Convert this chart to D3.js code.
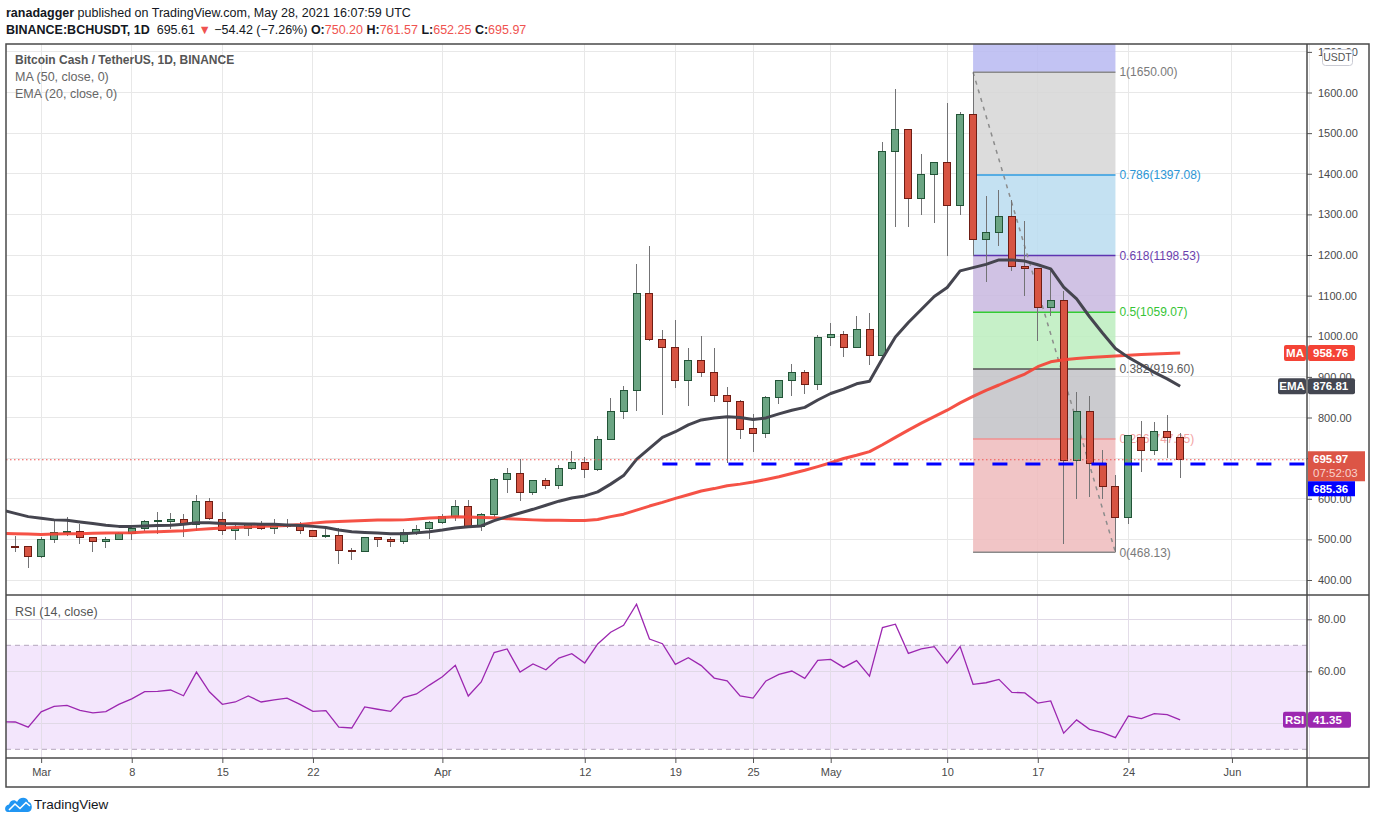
<!DOCTYPE html>
<html>
<head>
<meta charset="utf-8">
<script src="https://cdn.jsdelivr.net/npm/d3@7"></script>
<style>
  body { margin: 0; background: #fff; }
  svg { display: block; font-family: "Liberation Sans", Arial, sans-serif; }
</style>
</head>
<body>
<script>
// BCH/USDT daily, Feb 26 .. May 28 2021
const firstDay = '2021-02-26'

const open = [
  497, 483, 483,
  457, 500, 517, 519, 505, 495, 500, 514, 527, 544,
  545, 549, 537, 593, 548, 522, 527, 539, 527, 532,
  534, 522, 507, 510, 473, 470, 505, 500, 495, 517, 526,
  541, 557, 581, 532, 561, 647, 662, 616, 645, 633,
  675, 689, 672, 746, 814, 866, 1105, 992, 972, 891,
  940, 911, 854, 839, 773, 760, 849, 891, 911, 881,
  997, 1004, 972, 1016, 952, 1454, 1508, 1340, 1397, 1427,
  1321, 1547, 1237, 1256, 1296, 1171, 1166, 1070, 1089, 693,
  816, 688, 629, 553, 752, 720, 765, 750.20
]
const high = [
  510, 508, 484,
  506, 549, 554, 537, 506, 505, 517, 535, 548, 567,
  565, 562, 609, 601, 567, 538, 540, 545, 549, 549,
  542, 523, 532, 527, 480, 507, 507, 505, 525, 535, 545,
  562, 598, 597, 566, 650, 675, 697, 647, 650, 683,
  717, 702, 754, 847, 877, 1177, 1221, 1016, 1041, 972,
  1000, 972, 875, 844, 808, 852, 893, 931, 916, 1002,
  1032, 1012, 1049, 1057, 1477, 1609, 1510, 1449, 1430, 1573,
  1551, 1650, 1345, 1360, 1336, 1283, 1168, 1163, 1112, 864,
  852, 721, 659, 757, 792, 789, 806, 761.57
]
const low = [
  478, 470, 430,
  455, 492, 508, 489, 470, 480, 498, 499, 520, 513,
  525, 506, 520, 547, 512, 499, 509, 522, 514, 527,
  514, 505, 504, 440, 450, 468, 482, 482, 489, 510, 501,
  539, 546, 529, 520, 556, 615, 595, 609, 625, 625,
  670, 652, 669, 744, 797, 816, 988, 807, 873, 829,
  900, 838, 687, 748, 716, 750, 833, 853, 857, 867,
  975, 949, 970, 929, 950, 1268, 1268, 1299, 1280, 1197,
  1299, 1198, 1133, 1221, 1160, 1099, 988, 1050, 488, 599,
  604, 599, 468.13, 538, 666, 708, 701, 652.25
]
const close = [
  486, 482, 457,
  500, 517, 519, 504, 495, 500, 515, 527, 545, 546,
  550, 537, 593, 551, 522, 528, 539, 527, 532, 534,
  522, 507, 510, 473, 470, 505, 500, 495, 517, 525, 541,
  557, 581, 532, 561, 647, 662, 616, 645, 633, 675,
  689, 672, 746, 814, 866, 1105, 992, 972, 891, 940,
  911, 854, 839, 771, 760, 849, 891, 911, 881, 997,
  1004, 972, 1016, 952, 1454, 1508, 1340, 1397, 1427, 1321,
  1547, 1237, 1256, 1296, 1171, 1166, 1070, 1089, 693, 816,
  688, 629, 553, 755, 718, 765, 750, 695.97
]
const ema20 = [
  572, 564, 556,
  552, 548, 547, 543, 539, 535, 532, 532, 533, 534,
  535, 537, 541, 541, 539, 538.5, 538, 537.5, 537, 535.5,
  534, 532, 529, 523, 519, 517, 515.5, 514, 514, 516, 519,
  523, 528, 531, 533, 546, 556, 565, 574, 584, 594,
  602, 607, 617, 636, 657, 697, 724, 751, 765, 782,
  794, 799, 802, 800, 795, 799, 809, 818, 825, 843,
  859, 870, 883, 889, 945, 998, 1034, 1066, 1098, 1120,
  1161, 1169, 1177, 1188, 1188, 1185, 1176, 1166, 1121, 1092,
  1048, 1008, 970, 948, 930, 911, 895, 876.81
]
const ma50 = [
  515, 514, 513,
  512, 513, 514, 514, 515, 515.5, 516, 516.5, 518, 519,
  520, 521, 524, 526, 528, 529.5, 530.5, 532, 533, 534,
  536.5, 540, 542.5, 544, 545, 546.5, 547.5, 547.5, 548, 550, 552.5,
  554, 555.5, 555, 554, 553, 551, 549.5, 548, 547, 547,
  546.5, 546.5, 549, 556, 562, 572, 582, 591, 601, 610,
  619, 625, 632, 636, 641, 647.5, 654, 662, 670, 679,
  688.5, 699, 707, 716, 733, 751, 769, 786, 802, 818,
  836, 852, 867, 880, 894, 907, 925, 937, 942, 945,
  947.5, 949.5, 951.5, 953, 955, 956.5, 957.8, 958.76
]
const rsi14 = [
  40.6, 40.5, 38.5,
  44.4, 46.5, 46.9, 45.0, 44.0, 44.5, 47.3, 49.4, 52.2, 52.3,
  52.8, 50.6, 59.7, 52.1, 47.3, 48.2, 50.5, 48.2, 49.0, 49.7,
  47.3, 44.6, 44.9, 38.5, 38.2, 46.3, 45.4, 44.6, 49.9, 51.3, 54.7,
  57.9, 62.3, 50.5, 55.9, 67.2, 68.6, 59.7, 62.8, 60.6, 65.1,
  66.8, 63.2, 70.5, 75.0, 77.7, 85.8, 72.4, 70.6, 62.7, 65.2,
  62.2, 57.4, 56.3, 50.5, 49.7, 56.3, 58.8, 60.1, 57.3, 64.2,
  64.6, 61.5, 64.1, 58.1, 76.8, 78.1, 66.9, 68.6, 69.5, 63.1,
  69.5, 55.0, 55.6, 56.9, 51.9, 51.7, 47.8, 48.6, 36.2, 41.3,
  37.7, 36.4, 34.5, 42.8, 41.8, 43.7, 43.3, 41.35
]

const priceTicks = [400, 500, 600, 700, 800, 900, 1000, 1100, 1200, 1300, 1400, 1500, 1600, 1700]
const rsiTicks = [80, 60]
const rsiGrid = [80, 60, 40]
const timeTicks = ['2021-03-01', '2021-03-08', '2021-03-15', '2021-03-22', '2021-04-01', '2021-04-12',
  '2021-04-19', '2021-04-25', '2021-05-01', '2021-05-10', '2021-05-17', '2021-05-24', '2021-06-01', '2021-06-07']
const timeLabels = ['Mar', '8', '15', '22', 'Apr', '12', '19', '25', 'May', '10', '17', '24', 'Jun', '7']

// fib retracement drawn from the May 12 high to the May 23 low
const fibStart = '2021-05-12', fibEnd = '2021-05-23'
const fibHigh = 1650, fibLow = 468.13
const fibLevels = [1, 0.786, 0.618, 0.5, 0.382, 0.236, 0]
const fibLine = ['#8a8a8a', '#2f9be0', '#5e35b1', '#33cc33', '#555555', '#f08f8f', '#8a8a8a']
const fibText = ['#7a7a7a', '#2c96d6', '#6b3fae', '#36c436', '#5c5c5c', '#f3a3a3', '#7a7a7a']
const fibFill = ['#b7b8f1', '#d6d6d6', '#badcf0', '#c8b7df', '#bcedbe', '#c2c2c7', '#efbbbc']

const support = 685.36, supportFrom = '2021-04-18'

// ---- layout
const W = 1376, H = 823
const L = 6, R = 1307, OR = 1369
const PT = 44, PB = 595, RB = 758, AB = 787

const day = s => new Date(s + 'T00:00:00Z')
const t0 = day(firstDay).getTime()
const days = open.map((o, i) => ({ t: new Date(t0 + i * 864e5), o, h: high[i], l: low[i], c: close[i] }))

const x = d3.scaleUtc().domain([day('2021-02-26'), day('2021-06-07')]).range([2.3, 1309.6])
const y = d3.scaleLinear().domain([400, 1600]).range([580, 92.5])
const yR = d3.scaleLinear().domain([80, 60]).range([619.3, 671.3])

const svg = d3.select('body').append('svg').attr('width', W).attr('height', H)
const defs = svg.append('defs')
defs.append('clipPath').attr('id', 'cp').append('rect').attr('x', L).attr('y', PT).attr('width', R - L).attr('height', PB - PT)
defs.append('clipPath').attr('id', 'cr').append('rect').attr('x', L).attr('y', PB).attr('width', R - L).attr('height', RB - PB)
defs.append('clipPath').attr('id', 'ct').append('rect').attr('x', L).attr('y', RB).attr('width', R - L).attr('height', AB - RB)

// ---- header
const hd = svg.append('g').attr('font-size', 12.5).attr('fill', '#131722')
hd.append('text').attr('x', 6).attr('y', 17)
  .call(t => {
    t.append('tspan').attr('font-weight', 'bold').text('ranadagger')
    t.append('tspan').text(' published on TradingView.com, May 28, 2021 16:07:59 UTC')
  })
hd.append('text').attr('x', 6).attr('y', 34)
  .call(t => {
    const red = '#ef5350'
    t.append('tspan').attr('font-weight', 'bold').text('BINANCE:BCHUSDT, 1D')
    t.append('tspan').text('\u00a0 695.61 ')
    t.append('tspan').attr('fill', red).text('\u25bc')
    t.append('tspan').text(' \u221254.42 (\u22127.26%) ')
    ;[['O:', '750.20'], [' H:', '761.57'], [' L:', '652.25'], [' C:', '695.97']].forEach(([k, v]) => {
      t.append('tspan').attr('font-weight', 'bold').text(k)
      t.append('tspan').attr('fill', red).text(v)
    })
  })

// ---- grid
const grid = svg.append('g').attr('stroke', '#e8e8e8').attr('shape-rendering', 'crispEdges')
grid.selectAll('line.h').data(priceTicks).join('line')
  .attr('x1', L).attr('x2', R).attr('y1', d => y(d)).attr('y2', d => y(d))
grid.selectAll('line.v').data(timeTicks).join('line')
  .attr('x1', d => x(day(d))).attr('x2', d => x(day(d))).attr('y1', PT).attr('y2', RB)

// ---- RSI band
const rsiG = svg.append('g')
rsiG.append('rect').attr('x', L).attr('width', R - L).attr('y', yR(70)).attr('height', yR(30) - yR(70)).attr('fill', '#f3e6fc')
rsiG.selectAll('line.g').data(rsiGrid).join('line')
  .attr('x1', L).attr('x2', R).attr('y1', d => yR(d)).attr('y2', d => yR(d))
  .attr('stroke', '#e0d9e6').attr('shape-rendering', 'crispEdges')
rsiG.selectAll('line.v').data(timeTicks).join('line')
  .attr('x1', d => x(day(d))).attr('x2', d => x(day(d))).attr('y1', PB).attr('y2', RB)
  .attr('stroke', '#e3dde8').attr('shape-rendering', 'crispEdges')
rsiG.selectAll('line.b').data([70, 30]).join('line')
  .attr('x1', L).attr('x2', R).attr('y1', d => yR(d)).attr('y2', d => yR(d))
  .attr('stroke', '#b5a6bd').attr('stroke-dasharray', '5,4')

// ---- fib retracement
const pane = svg.append('g').attr('clip-path', 'url(#cp)')
const fx0 = x(day(fibStart)), fx1 = x(day(fibEnd))
const fibPrice = l => fibLow + l * (fibHigh - fibLow)
const bands = [1.618].concat(fibLevels)
pane.selectAll('rect.fib').data(fibLevels).join('rect')
  .attr('x', fx0).attr('width', fx1 - fx0)
  .attr('y', (d, i) => y(fibPrice(bands[i])))
  .attr('height', (d, i) => y(fibPrice(d)) - y(fibPrice(bands[i])))
  .attr('fill', (d, i) => fibFill[i]).attr('fill-opacity', 0.85)
pane.selectAll('line.fib').data(fibLevels).join('line')
  .attr('x1', fx0).attr('x2', fx1)
  .attr('y1', d => y(fibPrice(d))).attr('y2', d => y(fibPrice(d)))
  .attr('stroke', (d, i) => fibLine[i]).attr('stroke-width', 1.5)
pane.selectAll('text.fib').data(fibLevels).join('text')
  .attr('x', fx1 + 4).attr('y', d => y(fibPrice(d))).attr('dy', '0.35em')
  .attr('font-size', 12).attr('fill', (d, i) => fibText[i])
  .text(d => `${d}(${fibPrice(d).toFixed(2)})`)
pane.append('line')
  .attr('x1', fx0).attr('y1', y(fibHigh)).attr('x2', fx1).attr('y2', y(fibLow))
  .attr('stroke', '#8c8c8c').attr('stroke-width', 1.5).attr('stroke-dasharray', '4,5')

// ---- candles
const up = d => d.c >= d.o
pane.append('g').selectAll('line').data(days).join('line')
  .attr('x1', d => x(d.t)).attr('x2', d => x(d.t))
  .attr('y1', d => y(d.h)).attr('y2', d => y(d.l))
  .attr('stroke', '#737375').attr('shape-rendering', 'crispEdges')
pane.append('g').selectAll('rect').data(days).join('rect')
  .attr('x', d => x(d.t) - 3.5).attr('width', 7)
  .attr('y', d => y(Math.max(d.o, d.c)))
  .attr('height', d => Math.max(1, Math.abs(y(d.o) - y(d.c))))
  .attr('fill', d => up(d) ? '#6ba583' : '#d75442')
  .attr('stroke', d => up(d) ? '#225437' : '#6f1d14')
  .attr('shape-rendering', 'crispEdges')

// ---- moving averages
const lineOf = (sc) => d3.line().x((d, i) => x(days[i].t)).y(d => sc(d))
pane.append('path').datum(ma50).attr('d', lineOf(y))
  .attr('fill', 'none').attr('stroke', '#f44336').attr('stroke-width', 3).attr('stroke-linejoin', 'round').attr('stroke-opacity', 0.92)
pane.append('path').datum(ema20).attr('d', lineOf(y))
  .attr('fill', 'none').attr('stroke', '#45454f').attr('stroke-width', 3).attr('stroke-linejoin', 'round')

// support ray and last price line
pane.append('line')
  .attr('x1', x(day(supportFrom))).attr('x2', R).attr('y1', y(support)).attr('y2', y(support))
  .attr('stroke', '#0000ff').attr('stroke-width', 3).attr('stroke-dasharray', '15,18')
pane.append('line')
  .attr('x1', L).attr('x2', R).attr('y1', y(close[close.length - 1])).attr('y2', y(close[close.length - 1]))
  .attr('stroke', '#ef5350').attr('stroke-dasharray', '1.5,2.5')

// ---- legend
const lg = svg.append('g').attr('font-size', 12.5).attr('fill', '#555')
;['Bitcoin Cash / TetherUS, 1D, BINANCE', 'MA (50, close, 0)', 'EMA (20, close, 0)'].forEach((s, i) => {
  lg.append('text').attr('x', 15).attr('y', 64 + i * 17).attr('font-weight', i === 0 ? 'bold' : 'normal')
    .attr('font-size', i === 0 ? 12 : 12.5)
    .attr('fill', i === 0 ? '#555' : '#666').text(s)
})
svg.append('text').attr('x', 15).attr('y', 616).attr('font-size', 12.5).attr('fill', '#555').text('RSI (14, close)')

// ---- RSI line
svg.append('g').attr('clip-path', 'url(#cr)').append('path').datum(rsi14).attr('d', lineOf(yR))
  .attr('fill', 'none').attr('stroke', '#9c27b0').attr('stroke-width', 1.3)

// ---- axes
const styleAxis = g => {
  g.select('.domain').remove()
  g.selectAll('.tick line').attr('stroke', '#555')
  g.selectAll('.tick text').attr('fill', '#4a4a4a').attr('font-size', 11).attr('font-family', '"Liberation Sans", Arial, sans-serif')
}
const lastClose = close[close.length - 1]
// the 700 label sits under the last-price tag, as on the original
const priceFmt = d => Math.abs(d - lastClose) < 12 ? '' : d3.format('.2f')(d)
svg.append('g').attr('transform', `translate(${R},0)`)
  .call(d3.axisRight(y).tickValues(priceTicks).tickFormat(priceFmt).tickSize(5).tickPadding(6))
  .call(styleAxis)
svg.append('g').attr('transform', `translate(${R},0)`)
  .call(d3.axisRight(yR).tickValues(rsiTicks).tickFormat(d3.format('.2f')).tickSize(5).tickPadding(6))
  .call(styleAxis)
svg.append('g').attr('clip-path', 'url(#ct)').append('g').attr('transform', `translate(0,${RB})`)
  .call(d3.axisBottom(x).tickValues(timeTicks.map(day)).tickFormat((d, i) => timeLabels[i]).tickSize(5).tickPadding(5))
  .call(styleAxis)

// ---- frame
const fr = svg.append('g').attr('stroke', '#4a4a4a').attr('stroke-width', 1.5).attr('fill', 'none')
fr.append('rect').attr('x', L).attr('y', PT).attr('width', OR - L).attr('height', AB - PT)
fr.append('line').attr('x1', R).attr('x2', R).attr('y1', PT).attr('y2', AB)
fr.append('line').attr('x1', L).attr('x2', OR).attr('y1', PB).attr('y2', PB)
fr.append('line').attr('x1', L).attr('x2', OR).attr('y1', RB).attr('y2', RB)

// USDT currency badge
svg.append('rect').attr('x', 1322.5).attr('y', 49.5).attr('width', 30).attr('height', 16).attr('rx', 3)
  .attr('fill', '#fff').attr('stroke', '#c9cad3')
svg.append('text').attr('x', 1337.5).attr('y', 61).attr('text-anchor', 'middle').attr('font-size', 10.5).attr('fill', '#555').text('USDT')

// ---- price tags
const tag = (yc, label, value, color, lx, w) => {
  const g = svg.append('g').attr('font-size', 11.5).attr('font-weight', 'bold').attr('fill', '#fff')
  g.append('rect').attr('x', lx).attr('y', yc - 8).attr('width', R - 1 - lx).attr('height', 16).attr('rx', 2).attr('fill', color)
  g.append('text').attr('x', (lx + R - 1) / 2).attr('y', yc + 4).attr('text-anchor', 'middle').text(label)
  g.append('rect').attr('x', R + 1).attr('y', yc - 8).attr('width', w).attr('height', 16).attr('rx', 2).attr('fill', color)
  g.append('text').attr('x', R + 6).attr('y', yc + 4).text(value)
}
tag(y(ma50[ma50.length - 1]), 'MA', ma50[ma50.length - 1].toFixed(2), '#f44336', 1284, 47)
tag(y(ema20[ema20.length - 1]), 'EMA', ema20[ema20.length - 1].toFixed(2), '#434651', 1278, 47)
tag(yR(rsi14[rsi14.length - 1]), 'RSI', rsi14[rsi14.length - 1].toFixed(2), '#9c27b0', 1283, 43)

// last price + countdown
const lastY = y(lastClose)
const lp = svg.append('g').attr('font-size', 11.5).attr('font-weight', 'bold')
lp.append('rect').attr('x', R + 1).attr('y', lastY - 8.5).attr('width', 57).attr('height', 30).attr('fill', '#dc5546')
lp.append('text').attr('x', R + 6).attr('y', lastY + 3.5).attr('fill', '#fff').text(lastClose.toFixed(2))
lp.append('text').attr('x', R + 6).attr('y', lastY + 17.5).attr('fill', '#f9d3ce').attr('font-weight', 'normal').text('07:52:03')
// support value tag sits just below
const sp = svg.append('g').attr('font-size', 11.5).attr('font-weight', 'bold')
sp.append('rect').attr('x', R + 1).attr('y', lastY + 21.5).attr('width', 47).attr('height', 15).attr('fill', '#0000ff')
sp.append('text').attr('x', R + 6).attr('y', lastY + 33.5).attr('fill', '#fff').text(support.toFixed(2))

// ---- TradingView footer
const ft = svg.append('g')
ft.append('path')
  .attr('d', 'M8,812 C4,812 4,805 9,804.5 C10,800 15,799 17,802 C19,797 27,796 28.5,802 C33,802.5 33,812 28,812 Z')
  .attr('fill', '#2196f3')
ft.append('polyline').attr('points', '9,810 15,804 20,808.5 26,802.5 30,806')
  .attr('fill', 'none').attr('stroke', '#fff').attr('stroke-width', 1.6)
ft.append('text').attr('x', 34).attr('y', 809).attr('font-size', 13.5).attr('fill', '#131722').text('TradingView')
</script>
</body>
</html>
